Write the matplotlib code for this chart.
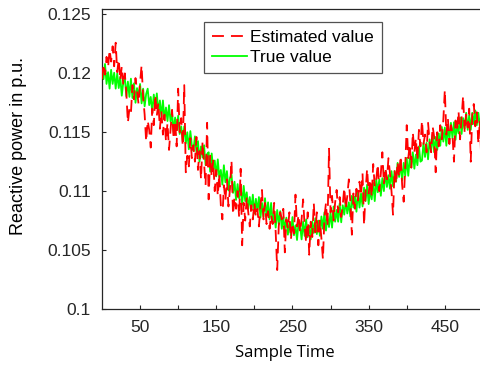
import numpy as np
import matplotlib
matplotlib.use("Agg")
import matplotlib.pyplot as plt

# sample index (every 2nd sample)
sample_time = np.arange(0, 500, 2)

# values in units of 1e-5 p.u.
true_value_e5 = [
    12070, 11950, 12080, 11910, 12010, 11870, 12030, 11910, 12005, 11870,
    12000, 11875, 11970, 11810, 11925, 11960, 11805, 11930, 11800, 11955,
    11790, 11915, 11750, 11875, 11800, 11910, 11745, 11870, 11720, 11825,
    11870, 11730, 11800, 11670, 11820, 11705, 11830, 11670, 11770, 11630,
    11770, 11605, 11710, 11595, 11730, 11590, 11665, 11500, 11625, 11520,
    11640, 11485, 11550, 11425, 11550, 11405, 11500, 11355, 11510, 11385,
    11340, 11465, 11330, 11425, 11250, 11380, 11285, 11390, 11220, 11315,
    11330, 11165, 11320, 11185, 11260, 11125, 11270, 11115, 11180, 11055,
    11220, 11075, 11170, 11005, 11110, 11140, 10985, 11080, 10925, 11060,
    10940, 11050, 10885, 11045, 10915, 10990, 10850, 10950, 10840, 10970,
    10810, 10935, 10830, 10950, 10775, 10900, 10785, 10940, 10780, 10905,
    10760, 10900, 10730, 10830, 10690, 10840, 10720, 10830, 10680, 10780,
    10670, 10775, 10630, 10740, 10625, 10780, 10625, 10710, 10585, 10730,
    10710, 10590, 10740, 10620, 10760, 10610, 10705, 10590, 10740, 10645,
    10770, 10635, 10750, 10620, 10785, 10680, 10820, 10665, 10785, 10695,
    10820, 10690, 10870, 10740, 10840, 10740, 10895, 10735, 10880, 10800,
    10920, 10810, 10905, 10785, 10960, 10860, 10955, 10825, 11000, 10860,
    10980, 10870, 11030, 10915, 11055, 10890, 11010, 10930, 11070, 10915,
    11100, 10990, 11100, 10960, 11110, 11000, 11170, 11035, 11135, 11020,
    11170, 11040, 11170, 11080, 11240, 11120, 11240, 11090, 11240, 11130,
    11280, 11130, 11280, 11200, 11330, 11190, 11310, 11220, 11380, 11250,
    11260, 11410, 11290, 11410, 11270, 11440, 11340, 11480, 11330, 11460,
    11350, 11490, 11385, 11545, 11420, 11540, 11385, 11545, 11440, 11580,
    11450, 11585, 11435, 11570, 11490, 11625, 11485, 11620, 11530, 11665,
    11520, 11645, 11520, 11665, 11570, 11685, 11560, 11665, 11545, 11660,
]

estimated_value_e5 = [
    11950, 12080, 11990, 12140, 12050, 12200, 12100, 12230, 12060, 12260,
    12010, 12120, 11940, 12060, 11900, 12000, 11830, 11580, 11700, 11660,
    11900, 11780, 11960, 11850, 11740, 11920, 12070, 11800, 11650, 11420,
    11600, 11520, 11370, 11700, 11560, 11820, 11640, 11750, 11530, 11680,
    11480, 11650, 11420, 11580, 11350, 11520, 11690, 11440, 11600, 11380,
    11870, 11500, 11620, 11380, 11900, 11160, 11300, 11210, 11450, 11280,
    11390, 11250, 11460, 11180, 11340, 11100, 11420, 11230, 11050, 11580,
    10930, 11300, 11120, 11260, 11000, 11180, 10960, 11150, 10880, 10760,
    11050, 10920, 11100, 10870, 11020, 11260, 10800, 10950, 10850, 11000,
    10780, 11190, 10540, 10900, 10750, 10950, 10820, 10700, 10880, 10760,
    10900, 10780, 10850, 10700, 10880, 11010, 10760, 10900, 10720, 10830,
    10680, 10800, 10720, 10900, 10650, 10330, 10700, 10820, 10760, 10850,
    10480, 10760, 10680, 10820, 10590, 10730, 10640, 10970, 10700, 10800,
    10650, 10760, 10930, 10700, 10560, 10820, 10460, 10740, 10610, 10900,
    10650, 10820, 10540, 10750, 10600, 10420, 10780, 10900, 10700, 11360,
    10820, 10960, 10750, 10900, 11010, 10820, 10950, 10780, 10880, 11030,
    10850, 10960, 11100, 10900, 10630, 10980, 10850, 11020, 10920, 11080,
    10960, 11150, 10710, 11000, 11190, 10980, 11100, 10950, 11230, 11040,
    11100, 11230, 11000, 11150, 11330, 11060, 11200, 11100, 11280, 11150,
    11000, 10800, 11180, 11060, 11250, 11120, 11300, 11050, 10910, 11200,
    11560, 11280, 11400, 11200, 11500, 11330, 11450, 11260, 11520, 11380,
    11600, 11400, 11480, 11330, 11580, 11420, 11330, 11550, 11460, 11160,
    11500, 11380, 11560, 11440, 11600, 11860, 11480, 11620, 11400, 11560,
    11480, 11250, 11600, 11520, 11680, 11440, 11620, 11810, 11500, 11650,
    11540, 11700, 11250, 11640, 11740, 11550, 11670, 11400, 11600, 11230,
]

true_value = np.array(true_value_e5) * 1e-5
estimated_value = np.array(estimated_value_e5) * 1e-5

y_ticks = [0.1, 0.105, 0.11, 0.115, 0.12, 0.125]
y_tick_labels = ["0.1", "0.105", "0.11", "0.115", "0.12", "0.125"]
x_ticks = [50, 100, 150, 200, 250, 300, 350, 400, 450]
x_tick_labels = ["50", "", "150", "", "250", "", "350", "", "450"]

plt.rcParams["font.family"] = ["Liberation Sans", "DejaVu Sans"]

fig = plt.figure(figsize=(4.81, 3.66), dpi=100)
ax = fig.add_axes([0.212, 0.156, 0.792, 0.819])

ax.plot(sample_time, estimated_value, color="#ff0000", lw=1.3,
        dashes=(6.6, 3.9), label="Estimated value", zorder=3)
ax.plot(sample_time, true_value, color="#00ff00", lw=1.3,
        label="True value", zorder=2)

ax.set_xlim(0, 500)
ax.set_ylim(0.1, 0.12545)
ax.set_xticks(x_ticks)
ax.set_xticklabels(x_tick_labels)
ax.set_yticks(y_ticks)
ax.set_yticklabels(y_tick_labels)
ax.tick_params(direction="in", length=3, width=0.8, labelsize=12.5,
               colors="#262626", pad=8)
for s in ax.spines.values():
    s.set_color("#262626")
    s.set_linewidth(0.9)

ax.set_xlabel("Sample Time", fontsize=12, family="Open Sans")
ax.xaxis.set_label_coords(0.48, -0.12)
ax.set_ylabel("Reactive power in p.u.", fontsize=13)
ax.yaxis.set_label_coords(-0.197, 0.545)

leg = ax.legend(loc="upper left", bbox_to_anchor=(0.268, 0.957), fontsize=12.5,
                frameon=True, fancybox=False, handlelength=2.05,
                handletextpad=0.15, borderpad=0.45, labelspacing=0.3,
                borderaxespad=0)
leg.get_frame().set_edgecolor("#262626")
leg.get_frame().set_linewidth(0.9)

fig.savefig("out.png", dpi=100)
